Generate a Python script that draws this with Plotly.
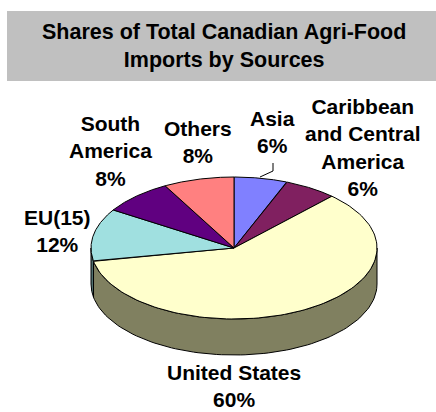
import numpy as np
import plotly.graph_objects as go

categories = ["Asia", "Caribbean and Central America", "United States", "EU(15)", "South America", "Others"]
shares = [6, 6, 60, 12, 8, 8]
top_colors = ["#8080FF", "#802060", "#FFFFCC", "#A0E0E0", "#600080", "#FF8080"]
side_colors = ["#404080", "#401030", "#808060", "#507070", "#300040", "#804040"]
label_texts = ["Asia<br>6%", "Caribbean<br>and Central<br>America<br>6%", "United States<br>60%",
               "EU(15)<br>12%", "South<br>America<br>8%", "Others<br>8%"]
label_x = [272, 363, 234, 57, 110, 198]
label_y = [132, 147, 386, 231, 151, 142]
title_text = "Shares of Total Canadian Agri-Food<br>Imports by Sources"

CX, CY, RX, RY, DEPTH = 234, 248, 143, 71, 36
FONT = "Liberation Sans, Arial, sans-serif"

def pt(deg):
    a = np.radians(deg)
    return CX + RX * np.sin(a), CY - RY * np.cos(a)

fig = go.Figure()
edges = np.concatenate([[0], np.cumsum(shares)]) * 3.6

# side walls (front half only)
for i, cat in enumerate(categories):
    a0, a1 = max(edges[i], 90), min(edges[i + 1], 270)
    if a1 <= a0:
        continue
    t = np.linspace(a0, a1, 90)
    x, y = pt(t)
    fig.add_trace(go.Scatter(
        x=np.concatenate([x, x[::-1], x[:1]]),
        y=np.concatenate([y, y[::-1] + DEPTH, y[:1]]),
        mode="lines", fill="toself", fillcolor=side_colors[i],
        line=dict(color="black", width=1), hoverinfo="skip", showlegend=False))

# top face
for i, cat in enumerate(categories):
    t = np.linspace(edges[i], edges[i + 1], 120)
    x, y = pt(t)
    fig.add_trace(go.Scatter(
        x=np.concatenate([[CX], x, [CX]]),
        y=np.concatenate([[CY], y, [CY]]),
        mode="lines", fill="toself", fillcolor=top_colors[i],
        line=dict(color="black", width=1), name=cat, hoverinfo="name", showlegend=False))

# Asia leader line
fig.add_trace(go.Scatter(x=[273, 273, 260], y=[163, 171, 177], mode="lines",
                         line=dict(color="black", width=1), hoverinfo="skip", showlegend=False))

for text, lx, ly in zip(label_texts, label_x, label_y):
    fig.add_annotation(x=lx, y=ly, text=text, showarrow=False, xref="x", yref="y",
                       xanchor="center", yanchor="middle", align="center",
                       font=dict(family=FONT, size=21, color="black", weight="bold"))

fig.add_shape(type="rect", x0=7, x1=436, y0=11, y1=81, xref="x", yref="y",
              fillcolor="#C0C0C0", line=dict(width=0), layer="below")
fig.add_annotation(x=224, y=46, text=title_text, showarrow=False, xref="x", yref="y",
                   xanchor="center", yanchor="middle", align="center",
                   font=dict(family=FONT, size=21.5, color="black", weight="bold"))

fig.update_layout(
    width=436, height=412, margin=dict(l=0, r=0, t=0, b=0),
    paper_bgcolor="white", plot_bgcolor="white", showlegend=False,
    xaxis=dict(range=[0, 436], visible=False, fixedrange=True),
    yaxis=dict(range=[412, 0], visible=False, fixedrange=True),
)
fig.write_html("out.html", config={"displayModeBar": False},
               post_script="document.body.style.margin='0';document.documentElement.style.overflow='hidden';")
